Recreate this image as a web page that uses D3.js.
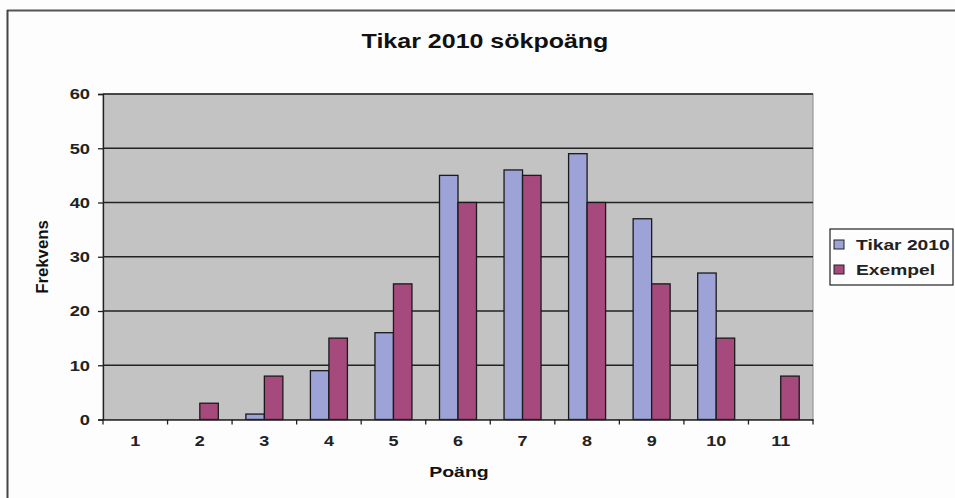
<!DOCTYPE html>
<html><head><meta charset="utf-8">
<script src="https://cdn.jsdelivr.net/npm/d3@7"></script>
<style>body{margin:0;background:#fdfdfd}svg{display:block;font-family:Arial,"Liberation Sans",sans-serif}</style>
</head><body><svg id="c" width="955" height="498"></svg>
<script>
const categories = ["1","2","3","4","5","6","7","8","9","10","11"];
const seriesNames = ["Tikar 2010","Exempel"];
const tikar2010 = [0,0,1,9,16,45,46,49,37,27,0];
const exempel = [0,3,8,15,25,40,45,40,25,15,8];
const yTicks = [0,10,20,30,40,50,60];
const colors = ["#9da3d6","#a6497c"];

const svg = d3.select("#c");
const m = {l:103, r:813, t:94, b:419.5};

// horizontally widen text (reference text is stretched)
function stretch(sel, k){
  sel.each(function(){
    const w = this.getComputedTextLength();
    d3.select(this).attr("textLength", w*k).attr("lengthAdjust","spacingAndGlyphs");
  });
}

// outer frame (top and left edges visible)
svg.append("line").attr("x1",7).attr("x2",955).attr("y1",10.5).attr("y2",10.5).attr("stroke","#555").attr("stroke-width",2);
svg.append("line").attr("x1",7.5).attr("x2",7.5).attr("y1",10).attr("y2",498).attr("stroke","#444").attr("stroke-width",2);

const x = d3.scaleBand().domain(categories).range([m.l,m.r]);
const xs = d3.scaleBand().domain(seriesNames).range([0,37]);
const y = d3.scaleLinear().domain([0,60]).range([m.b,m.t]);

svg.append("rect").attr("x",m.l).attr("y",m.t).attr("width",m.r-m.l).attr("height",m.b-m.t)
  .attr("fill","#c3c3c3").attr("stroke","#8a8a8a").attr("stroke-width",1);

// gridlines
svg.append("g").selectAll("line").data(yTicks.filter(d=>d>0)).join("line")
  .attr("x1",m.l).attr("x2",m.r).attr("y1",d=>y(d)).attr("y2",d=>y(d))
  .attr("stroke","#222").attr("stroke-width",1.3);

// bars
const data = [tikar2010, exempel];
const g = svg.append("g");
categories.forEach((c,i)=>{
  seriesNames.forEach((s,j)=>{
    const v = data[j][i];
    if(v<=0) return;
    g.append("rect")
      .attr("x", x(c) + (x.bandwidth()-37)/2 + xs(s))
      .attr("y", y(v)).attr("width", xs.bandwidth()).attr("height", y(0)-y(v))
      .attr("fill", colors[j]).attr("stroke","#1a1a1a").attr("stroke-width",1.3);
  });
});

// y axis
const ya = svg.append("g").attr("transform",`translate(${m.l},0)`)
  .call(d3.axisLeft(y).tickValues(yTicks).tickSize(5).tickPadding(8));
ya.select(".domain").attr("stroke","#222").attr("stroke-width",1.3);
ya.selectAll(".tick line").attr("stroke","#222").attr("stroke-width",1.3);
ya.selectAll("text").attr("font-size",15).attr("font-weight","bold").attr("fill","#222").call(stretch,1.22);

// x axis
const xa = svg.append("g").attr("transform",`translate(0,${m.b})`)
  .call(d3.axisBottom(x).tickSize(0).tickPadding(16));
xa.select(".domain").attr("stroke","#222").attr("stroke-width",1.3);
xa.selectAll("text").attr("font-size",15).attr("font-weight","bold").attr("fill","#222").call(stretch,1.2);
// tick marks at band boundaries
svg.append("g").selectAll("line").data(d3.range(categories.length+1)).join("line")
  .attr("x1",i=>m.l + i*x.step()).attr("x2",i=>m.l + i*x.step())
  .attr("y1",m.b).attr("y2",m.b+5).attr("stroke","#222").attr("stroke-width",1.3);

// title
svg.append("text").attr("x",485).attr("y",48).attr("text-anchor","middle")
  .attr("font-size",21).attr("font-weight","bold").attr("fill","#111").text("Tikar 2010 sökpoäng").call(stretch,1.19);
// axis titles
svg.append("text").attr("x",459).attr("y",477).attr("text-anchor","middle")
  .attr("font-size",15).attr("font-weight","bold").attr("fill","#111").text("Poäng").call(stretch,1.3);
svg.append("text").attr("transform","translate(48,257) rotate(-90)").attr("text-anchor","middle")
  .attr("font-size",16).attr("font-weight","bold").attr("fill","#111").text("Frekvens").call(stretch,1.05);

// legend
const lg = svg.append("g").attr("transform","translate(830,229)");
lg.append("rect").attr("width",123).attr("height",56).attr("fill","#fdfdfd").attr("stroke","#222").attr("stroke-width",1.2);
seriesNames.forEach((s,j)=>{
  const yy = 15 + j*25;
  lg.append("rect").attr("x",4).attr("y",yy-4).attr("width",10).attr("height",9)
    .attr("fill",colors[j]).attr("stroke","#222").attr("stroke-width",1);
  lg.append("text").attr("x",26).attr("y",yy+6).attr("font-size",15).attr("font-weight","bold")
    .attr("fill","#222").text(s).call(stretch,1.28);
});
</script></body></html>
